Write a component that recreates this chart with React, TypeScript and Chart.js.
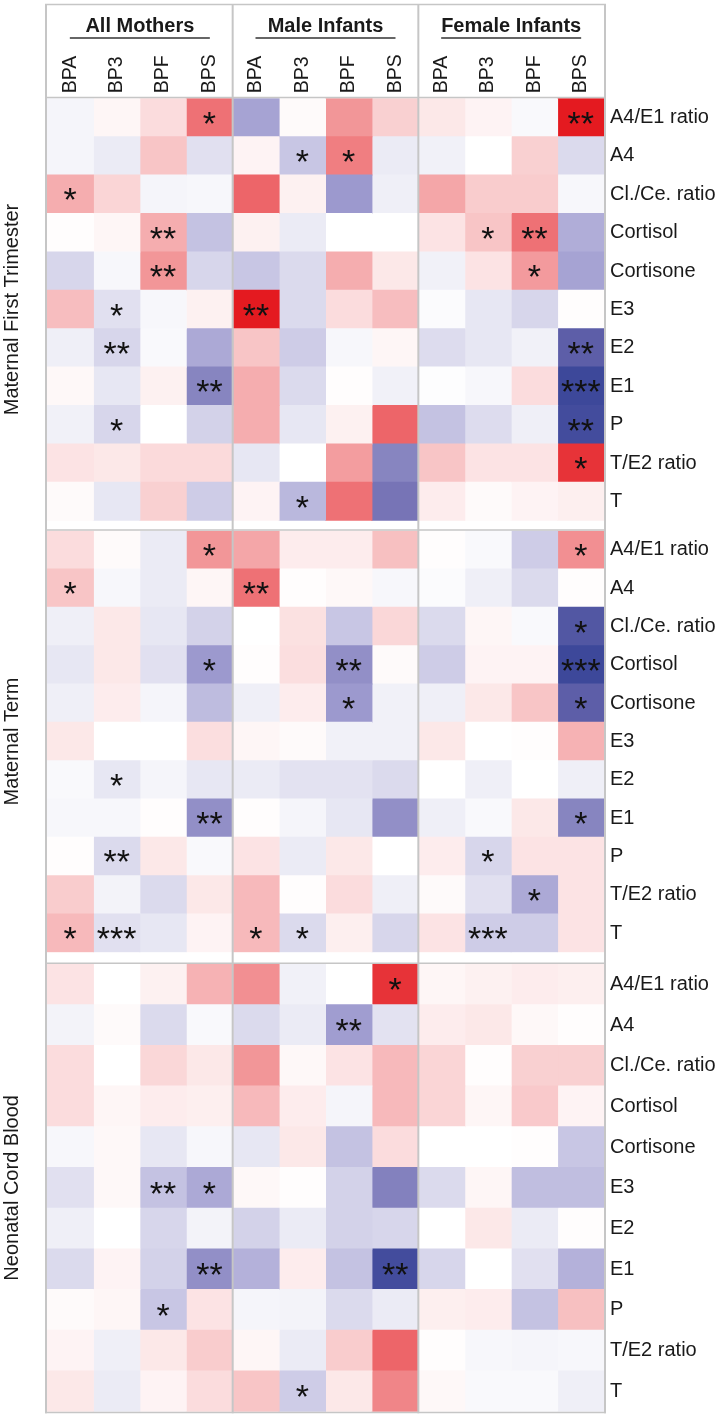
import React, { useEffect, useRef } from 'react';
import { Chart, registerables } from 'chart.js';

Chart.register(...registerables);

// ---------- data ----------
const COLUMN_LABELS = ['BPA', 'BP3', 'BPF', 'BPS', 'BPA', 'BP3', 'BPF', 'BPS', 'BPA', 'BP3', 'BPF', 'BPS'];
const GROUP_LABELS = ['All Mothers', 'Male Infants', 'Female Infants'];
const ROW_LABELS = ['A4/E1 ratio', 'A4', 'Cl./Ce. ratio', 'Cortisol', 'Cortisone', 'E3', 'E2', 'E1', 'P', 'T/E2 ratio', 'T'];
const SECTION_TITLES = ['Maternal First Trimester', 'Maternal Term', 'Neonatal Cord Blood'];

// rows = ROW_LABELS, columns = COLUMN_LABELS (All Mothers | Male Infants | Female Infants)
const FIRST_TRIMESTER_VALUES = [
  [-0.05, 0.04, 0.15, 0.6, -0.45, 0.02, 0.45, 0.2, 0.1, 0.05, -0.03, 0.95],
  [-0.05, -0.1, 0.25, -0.15, 0.05, -0.28, 0.55, -0.1, -0.07, 0, 0.2, -0.18],
  [0.35, 0.18, -0.05, -0.04, 0.65, 0.06, -0.5, -0.08, 0.38, 0.22, 0.22, -0.04],
  [0.01, 0.04, 0.35, -0.3, 0.06, -0.1, 0, 0, 0.12, 0.25, 0.6, -0.4],
  [-0.2, -0.04, 0.45, -0.2, -0.28, -0.18, 0.35, 0.1, -0.07, 0.12, 0.43, -0.45],
  [0.28, -0.15, -0.04, 0.06, 0.95, -0.18, 0.15, 0.28, -0.02, -0.12, -0.2, 0.01],
  [-0.08, -0.2, -0.03, -0.42, 0.25, -0.25, -0.04, 0.04, -0.17, -0.12, -0.07, -0.8],
  [0.03, -0.12, 0.06, -0.6, 0.35, -0.18, 0.01, -0.07, -0.01, -0.04, 0.15, -0.95],
  [-0.07, -0.2, 0, -0.22, 0.35, -0.12, 0.06, 0.65, -0.3, -0.17, -0.08, -0.92],
  [0.12, 0.1, 0.16, 0.16, -0.12, 0, 0.42, -0.6, 0.25, 0.12, 0.12, 0.85],
  [0.02, -0.12, 0.2, -0.25, 0.05, -0.35, 0.6, -0.68, 0.08, 0.02, 0.05, 0.07],
];
const TERM_VALUES = [
  [0.15, 0.02, -0.1, 0.45, 0.38, 0.08, 0.08, 0.27, 0.01, -0.03, -0.25, 0.48],
  [0.25, -0.04, -0.1, 0.04, 0.6, 0.01, 0.03, -0.04, -0.02, -0.08, -0.18, 0.01],
  [-0.08, 0.1, -0.12, -0.22, 0, 0.13, -0.28, 0.17, -0.18, 0.04, -0.03, -0.85],
  [-0.12, 0.1, -0.15, -0.5, 0.01, 0.14, -0.55, 0.02, -0.25, 0.05, 0.05, -0.95],
  [-0.08, 0.08, -0.05, -0.33, -0.08, 0.08, -0.5, -0.07, -0.08, 0.1, 0.25, -0.8],
  [0.1, 0, 0, 0.14, 0.04, 0.02, -0.07, -0.07, 0.1, 0, 0.01, 0.33],
  [-0.03, -0.12, -0.05, -0.12, -0.1, -0.14, -0.14, -0.18, 0, -0.08, 0, -0.08],
  [-0.04, -0.04, 0.01, -0.55, 0.01, -0.05, -0.12, -0.55, -0.08, -0.03, 0.1, -0.6],
  [0.01, -0.18, 0.1, -0.03, 0.12, -0.1, 0.1, 0, 0.08, -0.2, 0.12, 0.12],
  [0.22, -0.06, -0.18, 0.1, 0.3, 0.01, 0.15, -0.08, 0.02, -0.15, -0.42, 0.12],
  [0.3, -0.15, -0.12, 0.05, 0.3, -0.18, 0.07, -0.2, 0.12, -0.25, -0.25, 0.12],
];
const CORD_BLOOD_VALUES = [
  [0.12, 0, 0.06, 0.33, 0.48, -0.07, 0, 0.85, 0.04, 0.06, 0.08, 0.07],
  [-0.06, 0.02, -0.18, -0.03, -0.18, -0.1, -0.48, -0.14, 0.08, 0.1, 0.03, 0.01],
  [0.15, 0, 0.17, 0.1, 0.45, 0.03, 0.12, 0.3, 0.18, 0.01, 0.2, 0.2],
  [0.15, 0.04, 0.08, 0.07, 0.3, 0.08, -0.05, 0.3, 0.18, 0.04, 0.23, 0.05],
  [-0.04, 0.03, -0.12, -0.04, -0.12, 0.1, -0.3, 0.15, 0, 0, 0.01, -0.28],
  [-0.15, 0.03, -0.3, -0.42, 0.03, 0.01, -0.22, -0.62, -0.18, 0.04, -0.32, -0.32],
  [-0.08, 0, -0.2, -0.06, -0.22, -0.1, -0.22, -0.2, 0, 0.1, -0.1, 0.01],
  [-0.18, 0.05, -0.22, -0.55, -0.38, 0.08, -0.3, -0.92, -0.2, 0, -0.15, -0.38],
  [0.02, 0.04, -0.28, 0.12, -0.05, -0.06, -0.18, -0.1, 0.07, 0.08, -0.3, 0.27],
  [0.05, -0.08, 0.1, 0.22, 0.04, -0.1, 0.22, 0.65, 0.01, -0.04, -0.05, -0.04],
  [0.1, -0.1, 0.05, 0.15, 0.25, -0.25, 0.1, 0.52, 0.03, -0.03, -0.03, -0.08],
];

// number of significance asterisks per cell
const FIRST_TRIMESTER_STARS = [
  [0, 0, 0, 1, 0, 0, 0, 0, 0, 0, 0, 2],
  [0, 0, 0, 0, 0, 1, 1, 0, 0, 0, 0, 0],
  [1, 0, 0, 0, 0, 0, 0, 0, 0, 0, 0, 0],
  [0, 0, 2, 0, 0, 0, 0, 0, 0, 1, 2, 0],
  [0, 0, 2, 0, 0, 0, 0, 0, 0, 0, 1, 0],
  [0, 1, 0, 0, 2, 0, 0, 0, 0, 0, 0, 0],
  [0, 2, 0, 0, 0, 0, 0, 0, 0, 0, 0, 2],
  [0, 0, 0, 2, 0, 0, 0, 0, 0, 0, 0, 3],
  [0, 1, 0, 0, 0, 0, 0, 0, 0, 0, 0, 2],
  [0, 0, 0, 0, 0, 0, 0, 0, 0, 0, 0, 1],
  [0, 0, 0, 0, 0, 1, 0, 0, 0, 0, 0, 0],
];
const TERM_STARS = [
  [0, 0, 0, 1, 0, 0, 0, 0, 0, 0, 0, 1],
  [1, 0, 0, 0, 2, 0, 0, 0, 0, 0, 0, 0],
  [0, 0, 0, 0, 0, 0, 0, 0, 0, 0, 0, 1],
  [0, 0, 0, 1, 0, 0, 2, 0, 0, 0, 0, 3],
  [0, 0, 0, 0, 0, 0, 1, 0, 0, 0, 0, 1],
  [0, 0, 0, 0, 0, 0, 0, 0, 0, 0, 0, 0],
  [0, 1, 0, 0, 0, 0, 0, 0, 0, 0, 0, 0],
  [0, 0, 0, 2, 0, 0, 0, 0, 0, 0, 0, 1],
  [0, 2, 0, 0, 0, 0, 0, 0, 0, 1, 0, 0],
  [0, 0, 0, 0, 0, 0, 0, 0, 0, 0, 1, 0],
  [1, 3, 0, 0, 1, 1, 0, 0, 0, 3, 0, 0],
];
const CORD_BLOOD_STARS = [
  [0, 0, 0, 0, 0, 0, 0, 1, 0, 0, 0, 0],
  [0, 0, 0, 0, 0, 0, 2, 0, 0, 0, 0, 0],
  [0, 0, 0, 0, 0, 0, 0, 0, 0, 0, 0, 0],
  [0, 0, 0, 0, 0, 0, 0, 0, 0, 0, 0, 0],
  [0, 0, 0, 0, 0, 0, 0, 0, 0, 0, 0, 0],
  [0, 0, 2, 1, 0, 0, 0, 0, 0, 0, 0, 0],
  [0, 0, 0, 0, 0, 0, 0, 0, 0, 0, 0, 0],
  [0, 0, 0, 2, 0, 0, 0, 2, 0, 0, 0, 0],
  [0, 0, 1, 0, 0, 0, 0, 0, 0, 0, 0, 0],
  [0, 0, 0, 0, 0, 0, 0, 0, 0, 0, 0, 0],
  [0, 0, 0, 0, 0, 1, 0, 0, 0, 0, 0, 0],
];

// ---------- styling ----------
const FONT_FAMILY = '"Liberation Sans", Arial, Helvetica, sans-serif';
const TEXT_COLOR = '#1a1a1a';
const LINE_COLOR = '#c6c6c6';
const COLUMN_FONT_SIZE = 19.5;

type Stop = [number, number, number, number];
const BLUE_STOPS: Stop[] = [
  [0, 255, 255, 255],
  [0.5, 156, 153, 206],
  [0.75, 104, 102, 172],
  [1, 50, 64, 150],
];
const RED_STOPS: Stop[] = [
  [0, 255, 255, 255],
  [0.5, 241, 138, 141],
  [1, 226, 14, 20],
];

function cellColor(v: number): string {
  const stops = v < 0 ? BLUE_STOPS : RED_STOPS;
  const t = Math.min(1, Math.abs(v));
  for (let i = 1; i < stops.length; i++) {
    if (t <= stops[i][0]) {
      const a = stops[i - 1];
      const b = stops[i];
      const f = (t - a[0]) / (b[0] - a[0]);
      const c = [1, 2, 3].map((k) => Math.round(a[k] + (b[k] - a[k]) * f));
      return `rgb(${c[0]},${c[1]},${c[2]})`;
    }
  }
  const l = stops[stops.length - 1];
  return `rgb(${l[1]},${l[2]},${l[3]})`;
}

interface SectionLayout {
  values: number[][];
  stars: number[][];
  title: string;
  top: number;
  height: number;
  header: number;
  padTop: number;
  padBottom: number;
  frameTop: number | null;
  closeBottom: boolean;
}

const SECTIONS: SectionLayout[] = [
  { values: FIRST_TRIMESTER_VALUES, stars: FIRST_TRIMESTER_STARS, title: SECTION_TITLES[0], top: 0, height: 526, header: 98.3, padTop: 0, padBottom: 5.3, frameTop: 4.5, closeBottom: false },
  { values: TERM_VALUES, stars: TERM_STARS, title: SECTION_TITLES[1], top: 526, height: 431, header: 0, padTop: 4.7, padBottom: 4.7, frameTop: null, closeBottom: false },
  { values: CORD_BLOOD_VALUES, stars: CORD_BLOOD_STARS, title: SECTION_TITLES[2], top: 957, height: 460, header: 0, padTop: 7, padBottom: 5.3, frameTop: null, closeBottom: true },
];

function zeroPadding(s: any) {
  s.paddingTop = 0;
  s.paddingBottom = 0;
  s.paddingLeft = 0;
  s.paddingRight = 0;
}

function buildConfig(section: SectionLayout): any {
  const showHeader = section.header > 0;

  const framePlugin = {
    id: 'frame',
    afterDraw(chart: any) {
      const { ctx, chartArea } = chart;
      const xs = chart.scales.x;
      const left = chartArea.left - 1;
      const right = chartArea.right + 1;
      const yTop = section.frameTop !== null ? section.frameTop : 0;
      const yBottom = section.closeBottom ? chartArea.bottom + 1.5 : chart.height;
      ctx.save();
      ctx.strokeStyle = LINE_COLOR;
      ctx.lineWidth = 2;
      [left, xs.getPixelForValue(4), xs.getPixelForValue(8), right].forEach((x: number) => {
        ctx.beginPath();
        ctx.moveTo(x, yTop);
        ctx.lineTo(x, yBottom);
        ctx.stroke();
      });
      ctx.lineWidth = 1.5;
      const hLines = [chartArea.top - 0.75];
      if (section.frameTop !== null) hLines.push(section.frameTop);
      if (section.closeBottom) hLines.push(chartArea.bottom + 0.75);
      hLines.forEach((y) => {
        ctx.beginPath();
        ctx.moveTo(left - 1, y);
        ctx.lineTo(right + 1, y);
        ctx.stroke();
      });
      if (showHeader) {
        ctx.font = `bold 20px ${FONT_FAMILY}`;
        ctx.fillStyle = TEXT_COLOR;
        ctx.textAlign = 'center';
        ctx.textBaseline = 'alphabetic';
        ctx.strokeStyle = '#333333';
        ctx.lineWidth = 1.5;
        GROUP_LABELS.forEach((g, i) => {
          const cx = (xs.getPixelForValue(i * 4) + xs.getPixelForValue(i * 4 + 4)) / 2;
          ctx.fillText(g, cx, 32);
          ctx.beginPath();
          ctx.moveTo(cx - 70, 38);
          ctx.lineTo(cx + 70, 38);
          ctx.stroke();
        });
      }
      ctx.restore();
    },
  };

  const starPlugin = {
    id: 'stars',
    afterDatasetsDraw(chart: any) {
      const ctx = chart.ctx;
      ctx.save();
      ctx.font = `34px ${FONT_FAMILY}`;
      ctx.fillStyle = '#111111';
      ctx.textAlign = 'center';
      ctx.textBaseline = 'alphabetic';
      chart.data.datasets.forEach((_ds: any, col: number) => {
        const meta = chart.getDatasetMeta(col);
        meta.data.forEach((el: any, row: number) => {
          const n = section.stars[row][col];
          if (!n) return;
          const text = '*'.repeat(n);
          const m = ctx.measureText(text);
          const p = el.getCenterPoint();
          const baseline = p.y + (m.actualBoundingBoxAscent - m.actualBoundingBoxDescent) / 2;
          ctx.fillText(text, p.x, baseline);
        });
      });
      ctx.restore();
    },
  };

  const labelFont = { family: FONT_FAMILY, size: 20 };

  return {
    type: 'bar',
    data: {
      labels: ROW_LABELS,
      datasets: COLUMN_LABELS.map((label, col) => ({
        label,
        data: ROW_LABELS.map(() => 1),
        backgroundColor: ROW_LABELS.map((_r, row) => cellColor(section.values[row][col])),
        borderWidth: 0,
        barPercentage: 1,
        categoryPercentage: 1,
        inflateAmount: 0.5,
      })),
    },
    options: {
      indexAxis: 'y',
      responsive: false,
      maintainAspectRatio: false,
      animation: false,
      devicePixelRatio: 1,
      events: [],
      layout: { padding: { left: 0, right: 0, top: section.padTop, bottom: section.padBottom } },
      plugins: { legend: { display: false }, tooltip: { enabled: false } },
      scales: {
        x: {
          type: 'linear',
          position: 'top',
          min: 0,
          max: 12,
          stacked: true,
          display: showHeader,
          grid: { display: false, drawTicks: false },
          border: { display: false },
          afterBuildTicks: (s: any) => {
            s.ticks = COLUMN_LABELS.map((_l, i) => ({ value: i + 0.5 }));
          },
          afterFit: (s: any) => {
            zeroPadding(s);
            if (showHeader) s.height = section.header;
          },
          ticks: {
            autoSkip: false,
            minRotation: 90,
            maxRotation: 90,
            padding: 5,
            labelOffset: COLUMN_FONT_SIZE * 1.2,
            color: TEXT_COLOR,
            font: { family: FONT_FAMILY, size: COLUMN_FONT_SIZE },
            callback: (_v: any, i: number) => COLUMN_LABELS[i],
          },
        },
        y: {
          type: 'category',
          position: 'right',
          stacked: true,
          grid: { display: false, drawTicks: false },
          border: { display: false },
          ticks: { padding: 6, color: TEXT_COLOR, font: labelFont },
          afterFit: (s: any) => {
            zeroPadding(s);
            s.width = 116;
          },
        },
        yTitle: {
          type: 'category',
          position: 'left',
          grid: { display: false, drawTicks: false },
          border: { display: false },
          ticks: { display: false },
          title: { display: true, text: section.title, color: TEXT_COLOR, font: labelFont, padding: 0 },
          afterFit: (s: any) => {
            zeroPadding(s);
            s.width = 47;
          },
        },
      },
    },
    plugins: [starPlugin, framePlugin],
  };
}

function SectionChart({ section }: { section: SectionLayout }) {
  const ref = useRef<HTMLCanvasElement>(null);
  useEffect(() => {
    if (!ref.current) return;
    const chart = new Chart(ref.current, buildConfig(section));
    return () => chart.destroy();
  }, [section]);
  return (
    <canvas
      ref={ref}
      width={720}
      height={section.height}
      style={{ position: 'absolute', left: 0, top: section.top, width: 720, height: section.height }}
    />
  );
}

export default function App() {
  return (
    <div style={{ position: 'absolute', left: 0, top: 0, width: 720, height: 1417, background: '#ffffff', overflow: 'hidden' }}>
      {SECTIONS.map((s, i) => (
        <SectionChart key={i} section={s} />
      ))}
    </div>
  );
}
